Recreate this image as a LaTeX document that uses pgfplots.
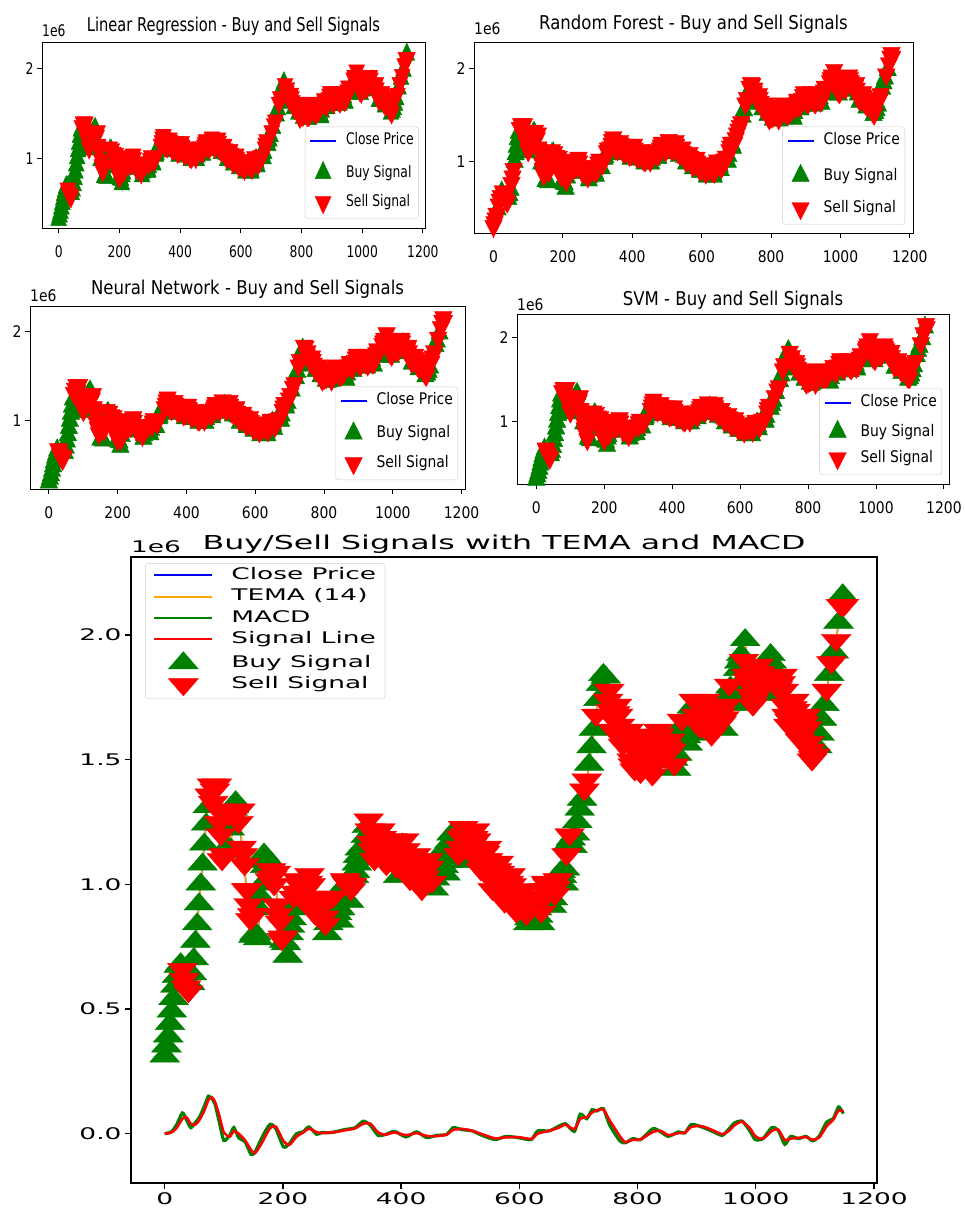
\documentclass[border=0pt]{standalone}
\usepackage{fontspec}
\setmainfont{DejaVu Sans}
\newfontfamily\fLR[FakeStretch=0.77]{DejaVu Sans}
\newfontfamily\fOT[FakeStretch=0.87]{DejaVu Sans}
\newfontfamily\fBT[FakeStretch=1.65]{DejaVu Sans}
\usepackage{pgfplots}
\usepackage{pgfplotstable}
\pgfplotsset{compat=1.18}
\definecolor{mpgreen}{RGB}{0,128,0}
\definecolor{mpred}{RGB}{255,0,0}
\definecolor{mpblue}{RGB}{0,0,255}
\definecolor{mporange}{RGB}{255,165,0}
\definecolor{lgframe}{RGB}{204,204,204}

\newcommand\tsLR{\fLR\fontsize{16}{18}\selectfont}
\newcommand\ttLR{\fLR\fontsize{19}{22}\selectfont}
\newcommand\tsOT{\fOT\fontsize{16}{18}\selectfont}
\newcommand\ttOT{\fOT\fontsize{19}{22}\selectfont}
\newcommand\tsB{\fBT\fontsize{16}{18}\selectfont}
\newcommand\ttB{\fBT\fontsize{19.2}{22}\selectfont}

% close price (1e6) and signal flags: 1 = buy, 0 = sell
\pgfplotstableread{
x p lr rf nn svm ta
0 0.31 1 0 1 1 1
3 0.35 1 0 1 1 1
6 0.39 1 0 1 1 1
9 0.44 1 0 1 1 1
12 0.49 1 1 1 1 1
15 0.54 1 0 1 1 1
18 0.59 1 0 1 1 1
21 0.63 1 0 1 1 1
24 0.67 1 1 1 1 1
27 0.68 1 0 0 0 1
30 0.66 0 0 0 0 0
33 0.62 0 0 0 0 0
36 0.59 0 0 0 0 0
40 0.57 0 0 0 0 0
43 0.60 1 1 0 1 1
46 0.64 1 1 1 1 1
49 0.70 1 1 1 1 1
52 0.77 1 0 1 1 1
55 0.84 1 0 1 1 1
58 0.92 1 0 1 1 1
61 1.00 1 1 1 1 1
64 1.08 1 1 1 1 1
67 1.16 1 1 1 1 1
70 1.24 1 1 1 1 1
73 1.31 1 1 0 1 1
76 1.36 0 0 0 0 0
80 1.40 0 0 0 0 0
82 1.33 0 0 0 0 0
85 1.38 0 0 0 0 0
88 1.40 0 0 0 0 0
90 1.30 0 0 0 0 0
92 1.25 0 0 0 0 0
95 1.20 0 0 0 0 0
97 1.10 1 1 1 1 0
100 1.12 0 0 0 0 0
102 1.13 0 0 0 0 1
105 1.15 1 1 1 1 1
108 1.28 0 0 0 0 0
110 1.22 0 0 0 0 1
112 1.14 1 1 1 1 1
115 1.30 1 1 1 1 1
117 1.31 1 1 1 1 1
120 1.33 1 0 1 1 1
122 1.29 0 0 0 0 0
125 1.25 0 0 0 0 0
128 1.30 0 0 0 0 0
130 1.15 0 0 0 0 0
132 1.12 0 0 0 0 0
135 1.08 0 0 0 0 0
138 0.98 1 1 0 1 0
140 0.98 0 0 0 0 0
142 0.92 0 0 0 0 0
145 0.86 0 0 0 0 0
148 0.88 0 0 0 0 0
150 0.79 1 1 1 0 1
152 0.80 1 1 1 1 1
155 0.80 1 1 1 1 1
158 0.78 1 1 1 1 1
160 0.90 1 0 0 1 1
162 0.95 1 1 1 1 1
165 1.00 1 0 0 0 1
168 1.12 0 0 0 0 1
170 1.07 1 0 1 1 1
172 1.09 1 1 1 1 1
175 1.10 0 0 0 0 1
178 1.02 1 1 1 1 0
180 1.06 0 0 0 0 0
182 1.03 0 0 0 0 0
185 1.00 0 0 0 0 0
188 1.05 0 0 0 0 0
190 0.92 0 0 0 0 0
192 0.88 0 0 0 0 0
195 0.85 0 0 0 0 0
198 0.78 1 1 1 1 0
200 0.79 0 1 0 0 0
202 0.77 1 1 1 1 1
205 0.76 1 1 1 1 1
208 0.71 1 1 1 1 1
210 0.80 1 0 0 1 1
212 0.83 1 1 1 1 1
215 0.86 0 0 0 0 1
218 0.95 0 0 0 0 0
220 0.92 1 0 0 0 1
222 0.97 0 0 0 0 0
225 1.02 0 0 0 0 0
227 1.00 0 0 0 0 0
230 0.97 0 0 0 0 0
232 0.94 0 0 0 0 0
235 0.90 1 1 1 1 1
237 0.94 0 0 0 0 0
240 0.98 0 0 0 0 0
242 1.01 0 0 0 0 0
245 1.04 0 0 0 0 0
247 1.00 0 0 0 0 0
250 0.95 0 0 0 0 0
252 0.92 0 0 0 0 0
255 0.88 1 1 1 1 0
257 0.89 0 0 0 0 0
260 0.90 0 0 0 0 0
262 0.93 0 0 0 0 0
265 0.95 0 0 0 0 0
267 0.91 0 0 0 0 0
270 0.87 0 0 0 0 0
272 0.84 0 0 0 0 0
275 0.80 1 1 1 1 1
277 0.84 1 1 1 1 1
280 0.88 1 1 1 1 1
282 0.92 1 0 1 1 1
285 0.95 0 0 0 0 0
287 0.93 0 0 0 0 1
290 0.90 1 0 1 1 1
292 0.88 1 1 1 1 1
295 0.85 1 1 1 1 1
297 0.90 1 0 1 1 1
300 0.95 0 0 0 0 1
302 0.99 0 0 0 0 1
305 1.02 0 0 0 0 0
307 1.01 0 0 0 0 0
310 1.00 0 0 0 0 0
312 0.93 1 1 1 1 1
315 0.98 0 0 0 0 0
317 1.00 0 0 0 0 0
320 1.03 1 1 1 1 1
322 1.05 1 1 1 1 1
325 1.08 1 1 1 1 1
327 1.11 1 0 1 1 1
330 1.14 1 0 1 1 1
332 1.12 1 1 1 1 1
335 1.10 1 1 1 1 1
337 1.15 0 0 0 0 1
340 1.19 0 0 0 0 1
342 1.23 0 0 0 0 1
345 1.26 0 0 0 0 0
347 1.22 0 0 0 0 0
350 1.17 0 0 0 0 0
352 1.14 0 0 0 0 0
355 1.10 1 1 1 1 0
357 1.13 0 0 0 0 0
360 1.15 0 0 0 0 0
362 1.19 0 0 0 0 0
365 1.22 0 0 0 0 0
367 1.19 0 0 0 0 0
370 1.16 0 0 0 0 0
372 1.12 0 0 0 0 0
375 1.08 1 1 1 1 0
377 1.10 0 0 0 0 0
380 1.12 0 0 0 0 0
382 1.15 0 0 0 0 0
385 1.18 0 0 0 0 0
387 1.14 0 0 0 0 0
390 1.10 1 0 1 0 0
392 1.07 0 0 0 0 0
395 1.03 1 1 1 1 1
397 1.08 0 0 0 0 1
400 1.13 0 0 0 0 1
402 1.16 0 0 0 0 1
405 1.18 0 0 0 0 0
407 1.14 0 0 0 0 0
410 1.09 0 0 0 0 0
412 1.06 0 0 0 0 0
415 1.02 1 1 1 1 0
417 1.05 0 0 0 0 0
420 1.07 0 0 0 0 0
422 1.10 0 0 0 0 0
425 1.12 0 0 0 0 0
427 1.09 0 0 0 0 0
430 1.05 1 0 0 1 0
432 1.02 0 0 0 0 0
435 0.98 1 1 1 1 0
437 1.01 0 0 0 0 0
440 1.03 0 0 0 0 0
442 1.07 0 0 0 0 0
445 1.10 0 0 0 0 0
447 1.07 0 0 0 0 0
450 1.04 0 1 0 0 1
452 1.01 0 0 0 0 0
455 0.98 1 1 1 1 1
457 1.02 1 1 1 1 1
460 1.06 1 0 1 1 1
462 1.09 0 0 0 0 1
465 1.12 0 0 0 0 1
467 1.11 0 0 0 0 1
470 1.10 0 0 0 0 1
472 1.07 0 0 0 0 1
475 1.04 1 1 1 1 1
477 1.09 0 0 0 0 1
480 1.14 0 0 0 0 1
482 1.17 0 0 0 0 1
485 1.20 0 0 0 0 1
487 1.18 0 0 0 0 1
490 1.16 1 1 0 0 1
492 1.13 0 0 0 0 1
495 1.09 1 1 1 1 1
497 1.12 0 0 0 0 0
500 1.15 0 0 0 0 0
502 1.19 0 0 0 0 0
505 1.23 0 0 0 0 0
507 1.20 0 0 0 0 0
510 1.17 0 0 1 1 1
512 1.14 0 0 0 0 0
515 1.10 1 1 1 1 1
517 1.13 0 0 0 0 0
520 1.16 0 0 0 0 0
522 1.19 0 0 0 0 0
525 1.22 0 0 0 0 0
527 1.18 0 0 0 0 0
530 1.13 0 0 0 0 0
532 1.10 0 0 0 0 0
535 1.06 1 1 1 1 0
537 1.08 0 0 0 0 0
540 1.10 0 0 0 0 0
542 1.13 0 0 0 0 0
545 1.15 0 0 0 0 0
547 1.10 0 0 0 0 0
550 1.05 1 1 1 1 0
552 1.02 0 0 0 0 0
555 0.98 1 1 1 1 0
557 1.01 0 0 0 0 0
560 1.03 0 0 0 0 0
562 1.06 0 0 0 0 0
565 1.09 0 0 0 0 0
567 1.05 0 0 0 0 0
570 1.00 0 0 0 0 0
572 0.97 0 0 0 0 0
575 0.93 1 1 1 1 0
577 0.96 0 0 0 0 0
580 0.98 0 0 0 0 0
582 1.01 0 0 0 0 0
585 1.04 0 0 0 0 0
587 1.00 0 0 0 0 0
590 0.96 0 0 0 0 0
592 0.93 0 0 0 0 0
595 0.89 1 1 1 1 0
597 0.91 0 0 0 0 0
600 0.93 0 0 0 0 0
602 0.96 0 0 0 0 0
605 0.98 0 0 0 0 0
607 0.95 0 0 0 0 0
610 0.91 0 0 0 0 0
612 0.88 0 0 0 0 0
615 0.84 1 1 1 1 1
617 0.86 1 1 1 1 1
620 0.88 1 1 1 1 1
622 0.92 0 0 0 0 1
625 0.95 0 0 0 0 0
627 0.93 0 0 0 0 1
630 0.90 1 0 1 1 1
632 0.87 1 1 1 1 1
635 0.84 1 1 1 1 1
637 0.89 0 0 0 0 0
640 0.94 0 0 0 0 0
642 0.98 0 0 0 0 0
645 1.01 0 0 0 0 0
647 1.00 0 0 0 0 0
650 0.98 1 1 1 1 1
652 0.95 1 1 1 1 1
655 0.91 1 1 1 1 1
657 0.94 0 0 0 0 1
660 0.96 0 0 0 0 0
662 0.99 0 0 0 0 0
665 1.02 0 0 0 0 0
667 1.04 1 1 1 1 1
670 1.05 1 0 1 1 1
672 1.03 0 0 0 0 1
675 1.00 1 1 1 1 1
677 1.06 1 1 1 1 1
680 1.12 0 0 0 0 0
682 1.16 0 0 0 0 1
685 1.20 0 0 0 0 0
687 1.18 1 1 1 1 1
690 1.15 1 1 1 1 1
694 1.20 1 0 1 1 1
698 1.25 1 0 0 1 1
702 1.30 0 0 0 0 1
706 1.34 1 0 1 1 1
710 1.38 0 0 0 0 0
714 1.42 0 0 0 0 0
718 1.48 1 1 1 1 1
722 1.55 1 1 1 1 1
726 1.62 0 0 0 0 1
730 1.68 0 0 0 0 0
734 1.74 1 1 1 1 1
738 1.80 1 0 1 1 1
742 1.84 1 0 0 1 1
746 1.83 0 0 0 0 1
750 1.74 0 0 0 0 0
752 1.78 0 0 0 0 0
755 1.70 0 0 0 0 0
758 1.62 1 1 1 1 0
760 1.66 0 0 0 0 0
762 1.69 0 0 0 0 0
765 1.72 0 0 0 0 0
767 1.68 0 0 0 0 0
770 1.64 0 0 0 0 0
772 1.60 0 0 0 0 0
775 1.56 1 1 1 1 0
777 1.57 0 0 0 0 0
780 1.58 0 0 0 0 0
782 1.60 0 0 0 0 0
785 1.62 0 0 0 0 0
787 1.56 0 0 0 0 0
790 1.50 1 1 1 1 0
792 1.48 0 0 0 0 0
795 1.46 0 0 0 0 0
797 1.48 0 0 0 0 0
800 1.50 1 0 1 0 1
802 1.48 0 0 0 0 0
805 1.45 1 1 1 1 0
807 1.49 0 0 0 0 0
810 1.53 0 0 0 0 0
812 1.57 0 0 0 0 0
815 1.60 0 0 0 0 0
817 1.54 0 0 0 0 0
820 1.48 0 0 0 0 0
822 1.46 0 0 0 0 0
825 1.44 1 1 1 1 0
827 1.50 0 0 0 0 0
830 1.55 1 0 1 1 1
832 1.59 0 0 0 0 1
835 1.62 0 0 0 0 0
837 1.60 0 0 0 0 0
840 1.57 0 0 0 0 0
842 1.53 0 0 0 0 0
845 1.49 1 1 1 1 1
847 1.51 0 0 0 0 0
850 1.52 0 0 0 0 0
852 1.55 0 0 0 0 0
855 1.58 0 0 0 0 0
857 1.54 0 0 0 0 0
860 1.50 1 1 1 1 1
862 1.48 1 1 1 1 0
865 1.46 1 1 1 1 1
867 1.52 1 1 1 1 1
870 1.58 1 0 1 1 1
872 1.62 0 0 0 0 1
875 1.66 0 0 0 0 0
877 1.64 0 0 0 0 1
880 1.62 0 0 0 0 1
882 1.59 0 0 0 0 1
885 1.56 1 1 1 1 1
887 1.62 1 1 1 1 1
890 1.67 0 0 0 0 1
892 1.71 0 0 0 0 1
895 1.74 0 0 0 0 0
897 1.71 0 0 0 0 1
900 1.68 0 0 0 0 0
902 1.64 0 0 0 0 0
905 1.60 1 1 1 1 1
907 1.63 0 0 0 0 0
910 1.66 0 1 1 0 0
912 1.70 0 0 0 0 0
915 1.74 0 0 0 0 0
917 1.72 0 0 0 0 0
920 1.70 0 0 0 0 1
922 1.65 0 0 0 0 0
925 1.60 1 1 1 1 0
927 1.63 0 0 0 0 0
930 1.65 0 0 0 0 0
932 1.69 0 0 0 0 0
935 1.72 0 0 0 0 0
937 1.70 0 0 0 0 0
940 1.68 1 1 1 1 0
942 1.65 0 0 0 0 0
945 1.62 1 1 1 1 1
947 1.67 0 0 0 0 0
950 1.72 0 0 0 0 0
952 1.76 0 0 0 0 1
955 1.80 0 0 0 0 0
957 1.79 0 0 0 0 1
960 1.78 1 1 1 1 1
962 1.75 1 1 1 1 1
965 1.72 1 1 1 1 1
967 1.79 1 1 1 1 1
970 1.86 1 0 0 0 1
972 1.89 0 0 0 0 1
975 1.92 0 0 0 0 1
977 1.91 0 0 0 0 1
980 1.90 0 0 0 0 0
982 1.98 0 0 0 0 1
985 1.84 0 0 0 0 0
987 1.82 0 0 0 0 0
990 1.80 0 0 0 0 0
992 1.76 0 0 0 0 0
995 1.72 1 1 1 1 0
997 1.74 0 0 0 0 0
1000 1.76 1 0 1 1 0
1002 1.82 0 0 0 0 1
1005 1.88 0 0 0 0 0
1007 1.85 0 0 0 0 0
1010 1.82 0 0 0 0 1
1012 1.79 0 0 0 0 0
1015 1.76 1 1 1 1 1
1017 1.80 0 0 0 0 1
1020 1.84 0 0 0 0 1
1022 1.88 0 0 0 0 1
1025 1.92 0 0 0 0 1
1027 1.89 0 0 0 0 1
1030 1.86 1 0 1 0 1
1032 1.83 0 0 0 0 0
1035 1.80 1 1 1 1 0
1037 1.79 0 0 0 0 0
1040 1.78 0 0 0 0 0
1042 1.81 0 0 0 0 0
1045 1.84 0 0 0 0 0
1047 1.78 0 0 0 0 0
1050 1.72 0 1 0 0 0
1052 1.68 0 0 0 0 0
1055 1.64 1 1 1 1 0
1057 1.66 0 0 0 0 0
1060 1.68 0 0 0 0 0
1062 1.71 0 0 0 0 0
1065 1.74 0 0 0 0 0
1067 1.70 0 0 0 0 0
1070 1.65 0 0 0 0 0
1072 1.62 0 0 0 0 0
1075 1.58 1 1 1 1 0
1077 1.60 0 0 0 0 0
1080 1.62 1 1 1 1 0
1082 1.65 0 0 0 0 0
1085 1.68 0 0 0 0 0
1087 1.63 0 0 0 0 0
1090 1.57 0 0 0 0 0
1092 1.54 0 0 0 0 0
1095 1.50 1 1 1 1 0
1097 1.51 0 0 0 0 0
1100 1.52 1 1 1 1 0
1104 1.55 1 1 1 1 1
1108 1.60 1 1 1 1 1
1112 1.66 1 0 0 1 1
1116 1.72 0 0 0 0 1
1120 1.78 1 1 0 1 0
1124 1.84 0 1 1 1 1
1128 1.89 1 1 1 1 0
1132 1.93 0 0 0 0 1
1136 1.98 1 1 1 1 0
1140 2.05 0 0 0 0 1
1144 2.12 0 0 0 1 0
1147 2.16 1 0 0 0 1
1149 2.12 0 0 0 0 0
}\price

% MACD and signal line (1e6)
\pgfplotstableread{
x macd sig
0 0.000 0.000
11 0.007 0.004
20 0.035 0.022
30 0.083 0.060
37 0.055 0.065
44 0.024 0.040
52 0.045 0.036
59 0.067 0.056
67 0.110 0.092
74 0.150 0.135
80 0.140 0.145
85 0.120 0.128
92 0.050 0.075
100 -0.027 0.005
110 -0.007 -0.012
117 0.024 0.010
125 -0.016 0.000
136 -0.033 -0.027
146 -0.083 -0.065
153 -0.073 -0.078
165 -0.013 -0.035
178 0.037 0.022
188 0.020 0.028
201 -0.053 -0.030
211 -0.040 -0.045
223 0.000 -0.012
234 0.007 0.004
244 0.027 0.020
257 -0.003 0.006
266 0.005 0.002
275 0.003 0.004
288 0.007 0.006
304 0.016 0.013
322 0.024 0.021
336 0.050 0.040
348 0.033 0.040
361 -0.007 0.005
374 -0.003 -0.004
389 0.009 0.005
408 -0.013 -0.006
426 0.007 0.002
443 -0.016 -0.009
460 -0.007 -0.010
477 -0.003 -0.004
488 0.024 0.015
503 0.016 0.019
520 0.011 0.012
537 -0.007 -0.002
559 -0.024 -0.019
577 -0.011 -0.015
598 -0.016 -0.014
620 -0.024 -0.021
631 0.011 0.000
650 0.011 0.011
667 0.030 0.024
678 0.040 0.036
693 0.009 0.018
703 0.078 0.060
714 0.060 0.066
723 0.096 0.085
731 0.091 0.093
742 0.100 0.097
753 0.033 0.052
770 -0.029 -0.010
779 -0.037 -0.034
792 -0.020 -0.025
805 -0.024 -0.023
826 0.020 0.007
839 0.007 0.011
852 -0.011 -0.006
869 0.007 0.002
880 0.003 0.004
891 0.037 0.027
908 0.027 0.030
925 0.011 0.016
943 -0.007 -0.002
955 0.020 0.012
964 0.043 0.034
977 0.050 0.048
990 0.010 0.022
999 -0.024 -0.010
1012 -0.020 -0.021
1027 0.024 0.011
1038 0.013 0.016
1049 -0.043 -0.026
1059 -0.011 -0.020
1072 -0.020 -0.017
1085 -0.011 -0.014
1096 -0.029 -0.024
1107 -0.011 -0.016
1120 0.047 0.030
1131 0.060 0.056
1140 0.107 0.093
1148 0.080 0.088
}\macd

\pgfplotsset{
  lgline/.style={legend image code/.code={\draw[##1] (0pt,0pt) -- (26pt,0pt);}},
  lgmark/.style={legend image code/.code={\draw[##1] plot coordinates {(13pt,0pt)};}},
  lgmarkB/.style={legend image code/.code={\draw[##1] plot coordinates {(29pt,0pt)};}},
  mpbase/.style={
    scale only axis, axis on top, anchor=south west,
    tick align=outside, tick pos=left,
    axis line style={black, line width=0.9pt},
    tick style={black, line width=0.9pt},
    major tick length=5pt,
    scaled ticks=false,
    /pgf/number format/1000 sep={},
    /pgf/number format/assume math mode=true,
    xtick={0,200,...,1200},
    legend cell align=left,
    unbounded coords=discard,
  },
  topax/.style={
    mpbase, ytick={1,2},
    xticklabel style={yshift=-9pt},
    legend style={anchor=south east, draw=lgframe, fill=white, rounded corners=3pt,
      inner xsep=4pt, inner ysep=5pt, row sep=12pt,
      nodes={inner sep=1pt, text height=12pt, text depth=3.5pt},
      /tikz/every odd column/.append style={column sep=8pt}},
  },
}

% #1 flag column, #2 x scale of markers
\newcommand\topplots[2]{%
  \addplot[mpblue, line width=2pt, lgline] table[x=x,y=p]{\price};
  \addplot[only marks, mark=triangle*, mark size=11.5pt, mpgreen, mark options={xscale=#2, draw=none, fill=mpgreen}, lgmark]
    table[x=x, y expr={\thisrow{#1}>0.5 ? \thisrow{p} : nan}]{\price};
  \addplot[only marks, mark=triangle*, mark size=11.5pt, mpred, mark options={xscale=#2, rotate=180, draw=none, fill=mpred}, lgmark]
    table[x=x, y expr={\thisrow{#1}<0.5 ? \thisrow{p} : nan}]{\price};
}

\begin{document}
\begin{tikzpicture}[x=1pt,y=1pt]
\useasboundingbox (0,0) rectangle (965,1209);

% ---- Linear Regression ----
\begin{axis}[topax, at={(42pt,981pt)}, width=383pt, height=186pt,
  xmin=-55, xmax=1207, ymin=0.22, ymax=2.30,
  ticklabel style={font=\tsLR},
  title={Linear Regression - Buy and Sell Signals},
  title style={font=\ttLR, at={(0.5,1)}, anchor=base, yshift=4pt},
  legend style={at={(0.984,0.048)}, font=\tsLR},
  legend entries={Close Price, Buy Signal, Sell Signal},
  after end axis/.code={\node[anchor=base west, font=\tsLR, inner sep=0pt] at ([yshift=5pt]rel axis cs:0,1) {1e6};}]
\topplots{lr}{0.8}
\end{axis}

% ---- Random Forest ----
\begin{axis}[topax, at={(474pt,976pt)}, width=439pt, height=191pt,
  xmin=-56, xmax=1209, ymin=0.236, ymax=2.28,
  ticklabel style={font=\tsOT},
  title={Random Forest - Buy and Sell Signals},
  title style={font=\ttOT, at={(0.5,1)}, anchor=base, yshift=6pt},
  legend style={at={(0.982,0.042)}, font=\tsOT, row sep=15pt},
  legend entries={Close Price, Buy Signal, Sell Signal},
  after end axis/.code={\node[anchor=base west, font=\tsOT, inner sep=0pt] at ([yshift=7pt]rel axis cs:0,1) {1e6};}]
\topplots{rf}{0.88}
\end{axis}

% ---- Neural Network ----
\begin{axis}[topax, at={(30pt,720pt)}, width=435pt, height=183pt,
  xmin=-55, xmax=1210, ymin=0.235, ymax=2.288,
  ticklabel style={font=\tsOT},
  title={Neural Network - Buy and Sell Signals},
  title style={font=\ttOT, at={(0.5,1)}, anchor=base, yshift=5pt},
  legend style={at={(0.984,0.049)}, font=\tsOT, row sep=12.5pt},
  legend entries={Close Price, Buy Signal, Sell Signal},
  after end axis/.code={\node[anchor=base west, font=\tsOT, inner sep=0pt] at ([yshift=4pt]rel axis cs:0,1) {1e6};}]
\topplots{nn}{0.88}
\end{axis}

% ---- SVM ----
\begin{axis}[topax, at={(517pt,725pt)}, width=432pt, height=170pt,
  xmin=-57, xmax=1215, ymin=0.258, ymax=2.28,
  ticklabel style={font=\tsOT},
  title={SVM - Buy and Sell Signals},
  title style={font=\ttOT, at={(0.5,1)}, anchor=base, yshift=2pt},
  legend style={at={(0.984,0.053)}, font=\tsOT, row sep=9pt},
  legend entries={Close Price, Buy Signal, Sell Signal},
  after end axis/.code={\node[anchor=base west, font=\tsOT, inner sep=0pt] at ([yshift=3pt]rel axis cs:0,1) {1e6};}]
\topplots{svm}{0.88}
\end{axis}

% ---- TEMA / MACD ----
\begin{axis}[mpbase, at={(131pt,26pt)}, width=746pt, height=626pt,
  xmin=-57, xmax=1205, ymin=-0.198, ymax=2.313,
  axis line style={line width=1.3pt}, tick style={line width=1.3pt}, major tick length=6pt,
  ytick={0,0.5,1,1.5,2},
  yticklabel style={/pgf/number format/.cd, fixed, fixed zerofill, precision=1},
  ticklabel style={font=\tsB},
  title={Buy/Sell Signals with TEMA and MACD},
  title style={font=\ttB, at={(0.5,1)}, anchor=base, yshift=1pt},
  legend style={at={(0.019,0.990)}, anchor=north west, draw=lgframe, fill=white, rounded corners=3pt,
    font=\tsB, inner xsep=8pt, inner ysep=3pt, row sep=3.8pt,
    nodes={inner sep=1pt, text height=12pt, text depth=3.5pt},
    /tikz/every odd column/.append style={column sep=17pt}},
  after end axis/.code={\node[anchor=base west, font=\tsB, inner sep=0pt] at ([yshift=4pt]rel axis cs:0,1) {1e6};}]
\addlegendimage{legend image code/.code={\draw[mpblue, line width=2pt] (0pt,0pt) -- (58pt,0pt);}}
\addlegendentry{Close Price}
\addlegendimage{legend image code/.code={\draw[mporange, line width=2pt] (0pt,0pt) -- (58pt,0pt);}}
\addlegendentry{TEMA (14)}
\addlegendimage{legend image code/.code={\draw[mpgreen, line width=2pt] (0pt,0pt) -- (58pt,0pt);}}
\addlegendentry{MACD}
\addlegendimage{legend image code/.code={\draw[mpred, line width=2pt] (0pt,0pt) -- (58pt,0pt);}}
\addlegendentry{Signal Line}
\addplot[mpblue, line width=1.5pt, forget plot] table[x=x,y=p]{\price};
\addplot[mporange, line width=1.5pt, forget plot] table[x=x,y=p]{\price};
\addplot[mpgreen, line width=3.2pt, smooth, tension=0.4, forget plot] table[x=x,y=macd]{\macd};
\addplot[mpred, line width=2.6pt, smooth, tension=0.4, forget plot] table[x=x,y=sig]{\macd};
\addplot[only marks, mark=triangle*, mark size=11.5pt, mpgreen, mark options={xscale=1.5, draw=none, fill=mpgreen}, lgmarkB]
  table[x=x, y expr={\thisrow{ta}>0.5 ? \thisrow{p} : nan}]{\price};
\addlegendentry{Buy Signal}
\addplot[only marks, mark=triangle*, mark size=11.5pt, mpred, mark options={xscale=1.5, rotate=180, draw=none, fill=mpred}, lgmarkB]
  table[x=x, y expr={\thisrow{ta}<0.5 ? \thisrow{p} : nan}]{\price};
\addlegendentry{Sell Signal}
\end{axis}
\end{tikzpicture}
\end{document}
